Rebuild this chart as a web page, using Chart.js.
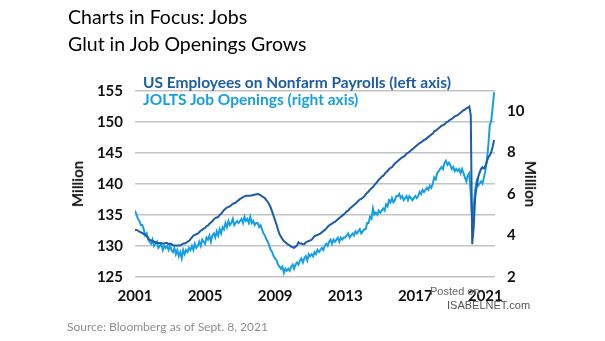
<!DOCTYPE html>
<html>
<head>
<meta charset="utf-8">
<script src="https://cdn.jsdelivr.net/npm/chart.js@4"></script>
<style>
  body { margin: 0; background: #fff; }
  #wrap { position: relative; width: 605px; height: 341px; overflow: hidden; font-family: Lato, "Open Sans", sans-serif; }
  #chart { position: absolute; left: 0; top: 0; }
  .txt { position: absolute; white-space: nowrap; }
  .title { left: 68px; font-size: 19.5px; color: #000; }
  .leg { left: 143px; font-size: 15.5px; font-weight: bold; }
  .axt { font-size: 15px; font-weight: bold; color: #111; }
</style>
</head>
<body>
<div id="wrap">
  <canvas id="chart" width="605" height="341"></canvas>
  <div class="txt title" style="top:5px">Charts in Focus: Jobs</div>
  <div class="txt title" style="top:32px">Glut in Job Openings Grows</div>
  <div class="txt leg" style="top:73px;color:#1d5ca6">US Employees on Nonfarm Payrolls (left axis)</div>
  <div class="txt leg" style="top:90px;color:#16a0e2">JOLTS Job Openings (right axis)</div>
  <div class="txt axt" style="left:54px;top:175px;transform:rotate(-90deg)">Million</div>
  <div class="txt axt" style="left:508px;top:175px;transform:rotate(90deg)">Million</div>
  <div class="txt" style="left:430px;top:285px;font:11px 'Liberation Sans',Arial,sans-serif;color:#666">Posted on</div>
  <div class="txt" style="left:447px;top:299px;font:11px 'Liberation Sans',Arial,sans-serif;color:#555">ISABELNET.com</div>
  <div class="txt" style="left:67px;top:319px;font-size:12px;color:#8f8f8f">Source: Bloomberg as of Sept. 8, 2021</div>
</div>
<script>
// monthly, starting Jan 2001
const startYear = 2001;
const yearTicks = [2001, 2005, 2009, 2013, 2017, 2021];
const leftTicks = [125, 130, 135, 140, 145, 150, 155];
const rightTicks = [2, 4, 6, 8, 10];

// US employees on nonfarm payrolls (million)
const payrolls = [
  132.6, 132.6, 132.5, 132.3, 132.2, 132.1, 131.9, 131.8, 131.6, 131.3, 131.0, 130.9,
  130.8, 130.7, 130.6, 130.5, 130.5, 130.5, 130.4, 130.4, 130.4, 130.5, 130.5, 130.3,
  130.4, 130.3, 130.1, 130.1, 130.1, 130.1, 130.1, 130.1, 130.2, 130.4, 130.4, 130.5,
  130.7, 130.8, 131.1, 131.4, 131.7, 131.8, 131.9, 132.0, 132.2, 132.5, 132.6, 132.8,
  132.9, 133.2, 133.3, 133.6, 133.8, 134.0, 134.3, 134.5, 134.6, 134.7, 135.0, 135.2,
  135.5, 135.8, 136.0, 136.2, 136.3, 136.4, 136.6, 136.8, 136.9, 137.0, 137.2, 137.4,
  137.6, 137.7, 137.9, 138.0, 138.1, 138.1, 138.1, 138.1, 138.2, 138.2, 138.3, 138.3,
  138.4, 138.3, 138.2, 138.0, 137.9, 137.7, 137.4, 137.1, 136.7, 136.2, 135.5, 134.8,
  134.1, 133.4, 132.6, 131.9, 131.5, 131.1, 130.8, 130.6, 130.4, 130.2, 130.1, 129.9,
  129.8, 129.7, 129.9, 130.1, 130.6, 130.4, 130.4, 130.3, 130.3, 130.6, 130.7, 130.8,
  130.9, 131.0, 131.3, 131.6, 131.7, 131.8, 131.9, 132.0, 132.2, 132.4, 132.6, 132.8,
  133.1, 133.3, 133.5, 133.6, 133.8, 133.9, 134.1, 134.3, 134.5, 134.7, 134.9, 135.1,
  135.3, 135.6, 135.7, 136.0, 136.2, 136.4, 136.6, 136.8, 137.0, 137.3, 137.5, 137.6,
  137.8, 138.0, 138.3, 138.6, 138.8, 139.1, 139.3, 139.5, 139.8, 140.1, 140.4, 140.7,
  140.9, 141.2, 141.3, 141.6, 141.9, 142.1, 142.4, 142.6, 142.7, 143.0, 143.3, 143.5,
  143.7, 143.9, 144.1, 144.3, 144.4, 144.6, 144.9, 145.0, 145.2, 145.4, 145.6, 145.8,
  146.0, 146.2, 146.4, 146.6, 146.7, 146.9, 147.1, 147.2, 147.4, 147.6, 147.8, 148.0,
  148.1, 148.5, 148.6, 148.8, 149.0, 149.2, 149.4, 149.5, 149.6, 149.9, 150.0, 150.2,
  150.4, 150.5, 150.7, 150.9, 151.0, 151.1, 151.3, 151.5, 151.7, 151.9, 152.0, 152.2,
  152.3, 152.5, 151.1, 130.3, 133.0, 137.8, 139.5, 141.0, 141.8, 142.4, 142.7, 142.5,
  142.9, 143.6, 144.3, 144.6, 145.1, 146.0, 147.1
];

// JOLTS job openings (million)
const jolts = [
  5.2, 5.0, 4.8, 4.7, 4.5, 4.5, 4.3, 4.0, 4.1, 3.8, 3.7, 3.6,
  3.8, 3.5, 3.6, 3.7, 3.4, 3.5, 3.6, 3.3, 3.5, 3.4, 3.5, 3.3,
  3.5, 3.3, 3.2, 3.4, 3.1, 3.3, 3.0, 3.2, 2.9, 3.3, 3.1, 3.3,
  3.2, 3.4, 3.3, 3.5, 3.3, 3.6, 3.4, 3.5, 3.7, 3.5, 3.8, 3.7,
  3.6, 3.9, 3.8, 4.0, 3.7, 4.0, 4.1, 3.9, 4.2, 4.0, 4.3, 4.1,
  4.4, 4.3, 4.6, 4.4, 4.7, 4.5, 4.6, 4.8, 4.5, 4.6, 4.7, 4.6,
  4.7, 4.8, 4.6, 4.9, 4.7, 4.8, 4.6, 4.9, 4.6, 4.7, 4.5, 4.6,
  4.6, 4.4, 4.5, 4.3, 4.1, 4.0, 3.8, 3.7, 3.5, 3.3, 3.2, 3.0,
  2.9, 2.8, 2.6, 2.5, 2.4, 2.5, 2.2, 2.4, 2.3, 2.4, 2.3, 2.5,
  2.6, 2.4, 2.6, 2.7, 2.6, 2.8, 2.9, 2.7, 2.9, 3.0, 2.8, 3.1,
  3.0, 3.1, 3.0, 3.2, 3.1, 3.3, 3.2, 3.3, 3.4, 3.3, 3.5, 3.6,
  3.5, 3.7, 3.8, 3.6, 3.8, 3.7, 3.8, 3.9, 3.7, 3.9, 3.8, 3.9,
  3.9, 4.0, 4.1, 3.9, 4.0, 4.1, 4.0, 4.2, 4.1, 4.2, 4.3, 4.1,
  4.2, 4.3, 4.3, 4.6, 4.6, 4.9, 4.8, 5.3, 5.0, 5.1, 5.0, 5.2,
  5.1, 5.2, 5.3, 5.2, 5.5, 5.4, 5.7, 5.6, 5.8, 5.6, 5.7, 5.9,
  5.9, 6.0, 5.8, 5.9, 5.7, 5.8, 5.9, 5.7, 5.9, 5.8, 5.7, 5.8,
  5.9, 5.8, 5.9, 6.1, 6.0, 6.2, 6.1, 6.2, 6.3, 6.2, 6.4, 6.3,
  6.5, 6.8, 6.7, 7.0, 7.1, 7.2, 7.3, 7.2, 7.5, 7.6, 7.4, 7.5,
  7.4, 7.2, 7.3, 7.1, 7.2, 7.1, 7.2, 7.0, 7.2, 7.0, 6.8, 6.6,
  6.9, 7.0, 6.0, 4.6, 5.4, 6.2, 6.6, 6.4, 6.5, 6.6, 6.5, 6.8,
  7.1, 7.6, 8.3, 9.3, 9.5, 10.2, 10.9
];

function toPoints(values) {
  return values.map((v, i) => ({ x: startYear + i / 12, y: v }));
}

const tickFont = { family: 'Lato, "Open Sans", sans-serif', size: 15, weight: 'bold' };

new Chart(document.getElementById('chart'), {
  type: 'line',
  data: {
    datasets: [
      {
        label: 'US Employees on Nonfarm Payrolls (left axis)',
        data: toPoints(payrolls),
        yAxisID: 'yLeft',
        borderColor: '#1d5ca6',
        borderWidth: 2,
        pointRadius: 0,
        tension: 0
      },
      {
        label: 'JOLTS Job Openings (right axis)',
        data: toPoints(jolts),
        yAxisID: 'yRight',
        borderColor: '#16a0e2',
        borderWidth: 2,
        pointRadius: 0,
        tension: 0
      }
    ]
  },
  options: {
    responsive: false,
    animation: false,
    layout: { padding: { top: 91, left: 0, right: 0, bottom: 0 } },
    plugins: { legend: { display: false }, tooltip: { enabled: false } },
    scales: {
      x: {
        type: 'linear',
        min: 2001,
        max: 2021.55,
        grid: { display: false, drawTicks: false },
        border: { display: false },
        afterBuildTicks: s => { s.ticks = yearTicks.map(v => ({ value: v })); },
        afterFit: s => { s.height = 64; },
        ticks: { color: '#111', font: tickFont, padding: 10, maxRotation: 0, callback: v => String(v) }
      },
      yLeft: {
        position: 'left',
        min: 125,
        max: 155,
        afterBuildTicks: s => { s.ticks = leftTicks.map(v => ({ value: v })); },
        afterFit: s => { s.width = 135; },
        grid: { color: '#c4c4c4', lineWidth: 1.5, drawTicks: false },
        border: { display: false },
        ticks: { color: '#111', font: tickFont, padding: 12 }
      },
      yRight: {
        position: 'right',
        min: 2,
        max: 10.96,
        afterBuildTicks: s => { s.ticks = rightTicks.map(v => ({ value: v })); },
        afterFit: s => { s.width = 110; },
        grid: { display: false, drawTicks: false },
        border: { display: false },
        ticks: { color: '#111', font: tickFont, padding: 12 }
      }
    }
  }
});
</script>
</body>
</html>
